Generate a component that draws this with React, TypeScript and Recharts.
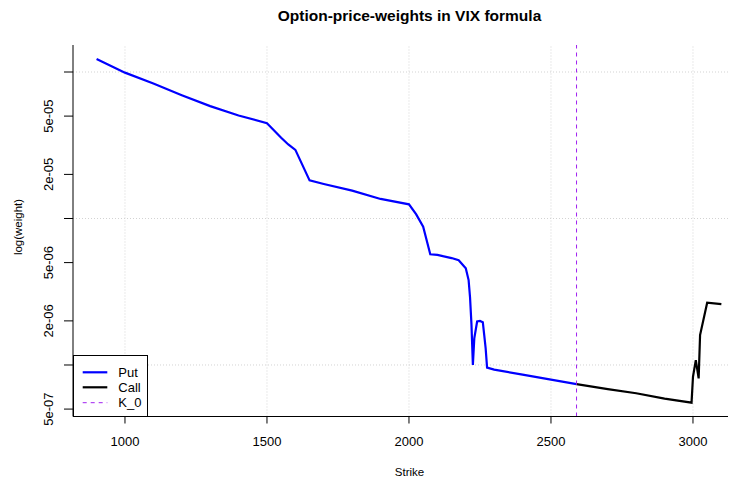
import React, { useLayoutEffect } from "react";
import { LineChart, Line, XAxis, YAxis, ReferenceLine } from "recharts";

const putStrikes = [900, 1000, 1100, 1200, 1300, 1400, 1500, 1550, 1575, 1600, 1650, 1700, 1800, 1900, 2000, 2025, 2050, 2075, 2100, 2150, 2175, 2200, 2210, 2215, 2220, 2225, 2230, 2240, 2250, 2260, 2265, 2270, 2275, 2300, 2400, 2500, 2590];
const putWeights = [1.227e-4, 9.9e-5, 8.34e-5, 6.95e-5, 5.85e-5, 5.05e-5, 4.47e-5, 3.56e-5, 3.2e-5, 2.94e-5, 1.82e-5, 1.72e-5, 1.55e-5, 1.36e-5, 1.25e-5, 1.07e-5, 8.8e-6, 5.7e-6, 5.64e-6, 5.37e-6, 5.19e-6, 4.57e-6, 3.8e-6, 2.9e-6, 1.9e-6, 1.0e-6, 1.52e-6, 1.98e-6, 2.0e-6, 1.96e-6, 1.6e-6, 1.3e-6, 9.6e-7, 9.3e-7, 8.6e-7, 7.94e-7, 7.41e-7];

const callStrikes = [2590, 2700, 2800, 2900, 2995, 3000, 3010, 3020, 3025, 3050, 3100];
const callWeights = [7.41e-7, 6.85e-7, 6.41e-7, 5.9e-7, 5.53e-7, 8.3e-7, 1.08e-6, 8.1e-7, 1.6e-6, 2.66e-6, 2.6e-6];

const K0 = 2590;

const xTicks = [1000, 1500, 2000, 2500, 3000];
const yTicks = [1e-4, 5e-5, 2e-5, 1e-5, 5e-6, 2e-6, 1e-6, 5e-7];
const yTickLabels = ["", "5e-05", "2e-05", "", "5e-06", "2e-06", "", "5e-07"];
const yGrid = [1e-4, 1e-5, 1e-6];

const xDomain = [817, 3151.5];
const yDomain = [4.45e-7, 1.5288e-4];

const putData = putStrikes.map((k, i) => ({ strike: k, weight: putWeights[i] }));
const callData = callStrikes.map((k, i) => ({ strike: k, weight: callWeights[i] }));

const FONT = "'Liberation Sans', Arial, sans-serif";

const YTick = (props: any) => {
  const { y, payload } = props;
  const idx = yTicks.indexOf(payload.value);
  const label = idx >= 0 ? yTickLabels[idx] : "";
  if (!label) return <g />;
  const x = 45.5;
  return (
    <text x={x} y={y} transform={`rotate(-90, ${x}, ${y})`} textAnchor="middle" fontSize={13} fill="#000" fontFamily={FONT}>
      {label}
    </text>
  );
};

export default function App() {
  useLayoutEffect(() => {
    document.documentElement.style.overflow = "hidden";
    document.body.style.overflow = "hidden";
    const root = document.getElementById("root");
    if (root) root.style.width = "728px";
  }, []);
  const W = 728;
  const H = 472;
  return (
    <div style={{ position: "relative", width: W, height: H, fontFamily: FONT, overflow: "hidden" }}>
      <LineChart width={W} height={H} margin={{ top: 37, right: 0, bottom: 33.5, left: 0 }}>
        <XAxis
          type="number"
          dataKey="strike"
          domain={xDomain}
          allowDataOverflow
          ticks={xTicks}
          tickSize={7}
          tickMargin={13}
          height={30}
          stroke="#000"
          tick={{ fill: "#000", fontSize: 13, fontFamily: FONT }}
        />
        <XAxis
          xAxisId="top"
          orientation="top"
          type="number"
          dataKey="strike"
          domain={xDomain}
          allowDataOverflow
          height={0}
          tick={false}
          tickLine={false}
          stroke="#000"
        />
        <YAxis
          type="number"
          dataKey="weight"
          scale="log"
          domain={yDomain}
          allowDataOverflow
          ticks={yTicks}
          tickSize={9}
          width={65}
          stroke="#000"
          tick={<YTick />}
        />
        {xTicks.map((v) => (
          <ReferenceLine key={"gx" + v} x={v} stroke="#d3d3d3" strokeDasharray="1 2" />
        ))}
        {yGrid.map((v) => (
          <ReferenceLine key={"gy" + v} y={v} stroke="#d3d3d3" strokeDasharray="1 2" />
        ))}
        <Line data={putData} dataKey="weight" type="linear" stroke="#0000ff" strokeWidth={2.2} dot={false} isAnimationActive={false} />
        <Line data={callData} dataKey="weight" type="linear" stroke="#000000" strokeWidth={2.2} dot={false} isAnimationActive={false} />
        <ReferenceLine x={K0} stroke="#a020f0" strokeDasharray="4 4" strokeWidth={1} />
      </LineChart>
      <svg width={W} height={H} style={{ position: "absolute", left: 0, top: 0, pointerEvents: "none" }}>
        <text x={401.5} y={7} textAnchor="middle" dominantBaseline="central" fontSize={15.5} fontWeight="bold" fill="#000" fontFamily={FONT}>
          Option-price-weights in VIX formula
        </text>
        <text x={401.5} y={463.5} textAnchor="middle" dominantBaseline="central" fontSize={11.5} fill="#000" fontFamily={FONT}>
          Strike
        </text>
        <text x={10.3} y={219} transform="rotate(-90, 10.3, 219)" textAnchor="middle" dominantBaseline="central" fontSize={11.5} fill="#000" fontFamily={FONT}>
          log(weight)
        </text>
        <g>
          <rect x={65.5} y={347.5} width={74} height={61} fill="#fff" stroke="#000" strokeWidth={1} />
          <line x1={74.7} x2={99.3} y1={364.3} y2={364.3} stroke="#0000ff" strokeWidth={2.2} />
          <line x1={74.7} x2={99.3} y1={379.3} y2={379.3} stroke="#000" strokeWidth={2.2} />
          <line x1={74.7} x2={99.3} y1={394.7} y2={394.7} stroke="#a020f0" strokeWidth={1} strokeDasharray="4 4" />
          <text x={110.3} y={364.3} dominantBaseline="central" fontSize={13} fill="#000" fontFamily={FONT}>Put</text>
          <text x={110.3} y={379.3} dominantBaseline="central" fontSize={13} fill="#000" fontFamily={FONT}>Call</text>
          <text x={110.3} y={394.7} dominantBaseline="central" fontSize={13} fill="#000" fontFamily={FONT}>K_0</text>
        </g>
      </svg>
    </div>
  );
}
